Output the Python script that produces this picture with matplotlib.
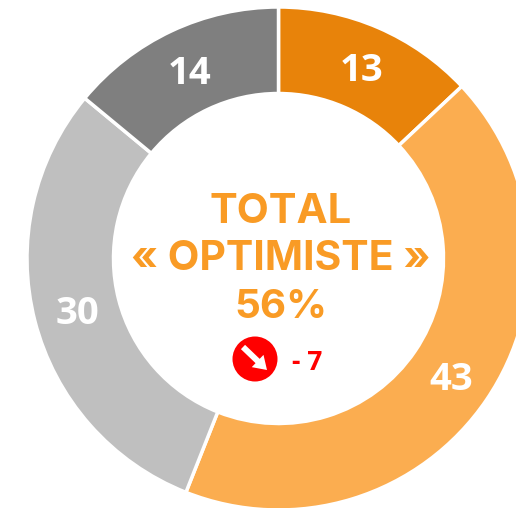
import matplotlib
matplotlib.use("Agg")
import matplotlib.pyplot as plt
from matplotlib.patches import Circle, FancyArrow

values = [13, 43, 30, 14]
labels = ["13", "43", "30", "14"]
colors = ["#E8830A", "#FBAD50", "#BFBFBF", "#7F7F7F"]
title_lines = ["TOTAL", "« OPTIMISTE »", "56%"]
delta = "- 7"

W, H = 516, 508
fig = plt.figure(figsize=(W/100, H/100), dpi=100)
ax = fig.add_axes([0, 0, 1, 1])
ax.set_xlim(0, W); ax.set_ylim(H, 0); ax.axis("off")

cx, cy, r = 278.5, 258.5, 251.5
ax2 = fig.add_axes([(cx-r)/W, 1-(cy+r)/H, 2*r/W, 2*r/H])
ax2.pie(values, colors=colors, startangle=90, counterclock=False, radius=1,
        wedgeprops=dict(width=86.5/251.5, edgecolor="white", linewidth=2.5))
ax2.set_xlim(-1, 1); ax2.set_ylim(-1, 1)
ax2.set_zorder(0)
ax.set_zorder(1)
ax.patch.set_alpha(0)

for t, (x, y) in zip(labels, [(362, 71), (451, 380), (77, 314), (190, 74)]):
    ax.text(x, y, t, color="white", fontsize=27.5, fontweight="bold", family="Open Sans", ha="center", va="center")
for t, y, fs in zip(title_lines, [212, 259, 308], [30, 29.5, 29]):
    ax.text(281, y, t, color="#F99B25", fontsize=fs, fontweight="bold", family="Inter", ha="center", va="center")

ax.add_patch(Circle((255, 359), 22.5, color="#FF0000", lw=0))
ax.add_patch(FancyArrow(243, 347, 24, 23, width=6, head_width=17, head_length=13, length_includes_head=True, color="white", lw=0))
ax.text(307, 362.5, delta, color="#FF0000", fontsize=19, fontweight="bold", family="Open Sans", ha="center", va="center")

fig.savefig("out.png", dpi=100)
